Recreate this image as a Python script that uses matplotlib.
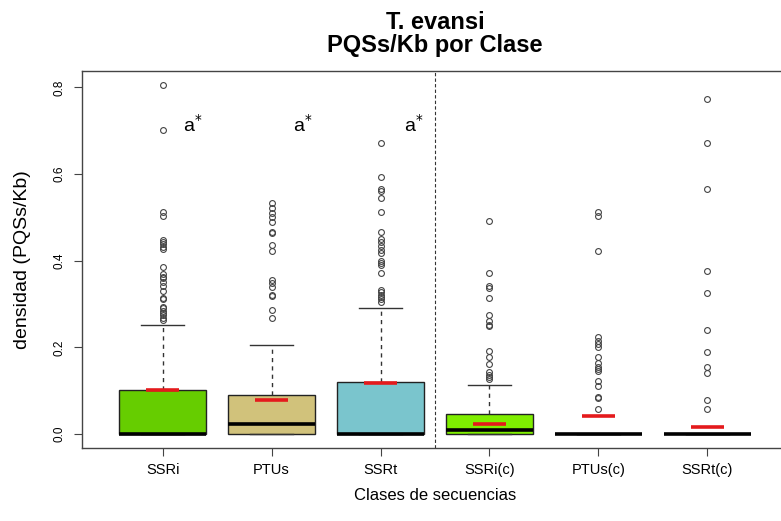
import matplotlib
matplotlib.use('Agg')
import matplotlib.pyplot as plt

plt.rcParams['font.family'] = ['Liberation Sans', 'DejaVu Sans']

# clases de secuencias y estadisticos de cada caja
clases = ['SSRi', 'PTUs', 'SSRt', 'SSRi(c)', 'PTUs(c)', 'SSRt(c)']
colores = ['#66CD00', '#D1C27B', '#7AC5CD', '#7FEE00', '#FFFFFF', '#FFFFFF']
q1 = [0.0, 0.0, 0.0, 0.0, 0.0, 0.0]
mediana = [0.0, 0.024, 0.0, 0.009, 0.0, 0.0]
q3 = [0.102, 0.091, 0.120, 0.047, 0.0, 0.0]
bigote_sup = [0.252, 0.206, 0.290, 0.114, 0.0, 0.0]
media = [0.101, 0.078, 0.119, 0.024, 0.043, 0.017]

atipicos = [
    [0.805, 0.702, 0.512, 0.503, 0.449, 0.443, 0.438, 0.432, 0.428, 0.386,
     0.370, 0.363, 0.360, 0.352, 0.343, 0.331, 0.314, 0.312, 0.293, 0.290,
     0.285, 0.280, 0.274, 0.268, 0.263],
    [0.533, 0.522, 0.510, 0.501, 0.489, 0.466, 0.464, 0.437, 0.423, 0.356,
     0.348, 0.339, 0.322, 0.319, 0.287, 0.268],
    [0.672, 0.594, 0.565, 0.562, 0.545, 0.513, 0.466, 0.451, 0.443, 0.434,
     0.426, 0.418, 0.400, 0.395, 0.390, 0.373, 0.333, 0.328, 0.322, 0.316,
     0.311, 0.305],
    [0.491, 0.371, 0.341, 0.337, 0.314, 0.276, 0.262, 0.253, 0.249, 0.192,
     0.178, 0.162, 0.144, 0.136, 0.131, 0.127],
    [0.512, 0.503, 0.423, 0.224, 0.216, 0.209, 0.200, 0.178, 0.165, 0.154,
     0.150, 0.146, 0.122, 0.112, 0.085, 0.083, 0.057],
    [0.773, 0.672, 0.566, 0.377, 0.326, 0.241, 0.189, 0.154, 0.142, 0.078,
     0.057],
]

etiqueta_sig = 'a$^{*}$'
pos_sig = [1.28, 2.29, 3.30]
y_sig = 0.713

stats = []
for i, c in enumerate(clases):
    stats.append(dict(label=c, q1=q1[i], med=mediana[i], q3=q3[i],
                      whislo=q1[i], whishi=bigote_sup[i], fliers=atipicos[i]))

fig = plt.figure(figsize=(7.81, 5.21), dpi=100)
ax = fig.add_axes([82 / 781, 73 / 521, 706 / 781, 377 / 521])

pos = list(range(1, len(clases) + 1))
bp = ax.bxp(stats, positions=pos, widths=0.8, capwidths=0.4, patch_artist=True,
            boxprops=dict(edgecolor='#222222', linewidth=1.0),
            medianprops=dict(color='black', linewidth=2.6, solid_capstyle='butt'),
            whiskerprops=dict(color='#333333', linewidth=1.0, linestyle=(0, (3, 3))),
            capprops=dict(color='#333333', linewidth=1.0),
            flierprops=dict(marker='o', markerfacecolor='none', markeredgecolor='#444444',
                            markersize=4.2, markeredgewidth=0.8))
for caja, col in zip(bp['boxes'], colores):
    caja.set_facecolor(col)
for caja, v in zip(bp['boxes'], q3):
    if v == 0:
        caja.set_edgecolor('none')

# medias en rojo
ax.hlines(media, [p - 0.15 for p in pos], [p + 0.15 for p in pos],
          colors='#E41A1C', linewidth=2.6, zorder=4)

# separacion entre grupos
ax.axvline(3.5, color='#333333', linewidth=0.8, linestyle=(0, (3, 2)))

for x in pos_sig:
    ax.text(x, y_sig, etiqueta_sig, fontsize=14, ha='center', va='center')

ax.set_xlim(0.26, 6.74)
ax.set_ylim(-0.032, 0.838)
ax.set_yticks([0.0, 0.2, 0.4, 0.6, 0.8])
ax.set_yticklabels(['0.0', '0.2', '0.4', '0.6', '0.8'], rotation=90, va='center', fontsize=8.5)
ax.set_xticks(pos)
ax.set_xticklabels(clases, fontsize=10.5)
ax.tick_params(axis='both', direction='out', length=6, width=0.8, color='#444444')
ax.tick_params(axis='x', pad=5)
ax.tick_params(axis='y', pad=6)
for s in ax.spines.values():
    s.set_color('#444444')
    s.set_linewidth(1.0)

ax.set_xlabel('Clases de secuencias', fontsize=12, labelpad=8)
ax.set_ylabel('densidad (PQSs/Kb)', fontsize=14, labelpad=16)
ax.set_title('T. evansi\nPQSs/Kb por Clase', fontsize=17, fontweight='bold', pad=14,
             linespacing=0.95)

fig.savefig('out.png', dpi=100)
